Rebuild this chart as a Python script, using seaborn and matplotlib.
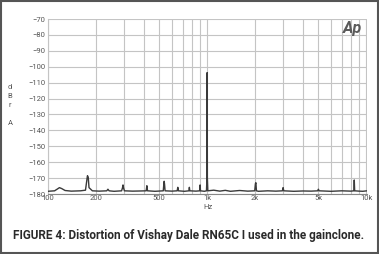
import matplotlib
matplotlib.use("Agg")
import matplotlib.pyplot as plt
import matplotlib.ticker as mticker
import seaborn as sns
import pandas as pd

# Spectrum points (Hz, dBr A)
freq = [100, 110, 114, 118, 122, 128, 140, 160, 172, 175, 177, 179, 181, 190, 210, 234, 238, 242,
        260, 290, 294, 296, 298, 302, 340, 380, 414, 418, 422, 470, 530, 534, 537, 540, 544,
        600, 648, 654, 660, 720, 768, 773, 778, 850, 898, 903, 908, 960, 990, 997, 1000, 1003, 1010,
        1100, 1200, 1300, 1400, 1600, 1800, 1990, 2010, 2024, 2040, 2100, 2400, 2700, 2970, 3000, 3030,
        3500, 4000, 4500, 4950, 5000, 5050, 6000, 7000, 8000, 8350, 8400, 8450, 9000, 9500, 10100]
level = [-178.3, -178.0, -177.0, -176.0, -176.6, -177.8, -178.2, -178.0, -177.6, -172.0, -168.5, -169.5, -176.0, -178.0, -178.2, -178.0, -177.0, -178.0,
         -178.3, -178.0, -176.0, -174.3, -176.0, -178.0, -178.2, -178.1, -178.0, -174.8, -178.0, -178.3, -178.0, -174.0, -172.0, -174.0, -178.0,
         -178.2, -178.0, -175.8, -178.0, -178.3, -178.0, -175.8, -178.0, -178.2, -178.0, -174.3, -178.0, -178.3, -178.0, -170.0, -103.7, -170.0, -178.0,
         -177.6, -178.2, -177.7, -178.3, -177.8, -178.2, -178.0, -173.5, -172.9, -178.0, -178.3, -178.0, -178.2, -178.0, -176.0, -178.0,
         -178.3, -178.1, -178.2, -178.0, -177.0, -178.0, -178.3, -178.0, -178.2, -178.0, -171.2, -178.0, -178.2, -178.3, -178.0]

x_ticks = [100, 200, 500, 1000, 2000, 5000, 10000]
x_labels = ["100", "200", "500", "1k", "2k", "5k", "10k"]
y_ticks = list(range(-180, -69, 10))
caption = "FIGURE 4: Distortion of Vishay Dale RN65C I used in the gainclone."

sns.set_style("white")
plt.rcParams['font.family'] = ['Roboto', 'DejaVu Sans']

df = pd.DataFrame({"freq": freq, "level": level})

fig = plt.figure(figsize=(3.79, 2.54), dpi=100)
ax = fig.add_axes([48/379, 60/254, (367-48)/379, (194-19)/254])

sns.lineplot(data=df, x="freq", y="level", ax=ax, color="#3a3a3a", linewidth=1.0, zorder=3)

ax.set_xscale("log")
ax.set_xlim(100, 10100)
ax.set_ylim(-180, -70)

grid_x = list(range(100, 1000, 100)) + list(range(1000, 10001, 1000))
for gx in grid_x:
    ax.axvline(gx, color="#c4c4c4", linewidth=0.8, zorder=1)
for gy in y_ticks:
    ax.axhline(gy, color="#c4c4c4", linewidth=0.8, zorder=1)

ax.xaxis.set_major_locator(mticker.FixedLocator(x_ticks))
ax.xaxis.set_major_formatter(mticker.FixedFormatter(x_labels))
ax.xaxis.set_minor_locator(mticker.NullLocator())
ax.set_yticks(y_ticks)
ax.yaxis.set_minor_locator(mticker.MultipleLocator(2))
ax.tick_params(axis="both", which="major", labelsize=5.5, labelcolor="#555555", length=0, pad=2)
ax.tick_params(axis="y", which="major", length=3, color="#bbbbbb", direction="in")
ax.tick_params(axis="y", which="minor", length=2, color="#cccccc", direction="in", width=0.5)
ax.tick_params(axis="x", pad=1)

for s in ["top", "right"]:
    ax.spines[s].set_visible(False)
ax.spines["left"].set_color("#c4c4c4")
ax.spines["left"].set_linewidth(0.8)
ax.spines["bottom"].set_color("#888888")
ax.spines["bottom"].set_linewidth(0.8)

ax.set_xlabel("Hz", fontsize=5.5, color="#555555", labelpad=2)
ax.set_ylabel("")
fig.text(10/379, 1 - 84/254, "d\nB\nr\n\nA", fontsize=5.5, color="#555555",
         ha="center", va="top", linespacing=1.6)

fig.text(352/379, 1 - 28/254, "Ap", fontsize=11.5, fontweight="bold", style="italic",
         color="#5a5a5a", ha="center", va="center")

fig.text(189/379, 1 - 236/254, caption, fontsize=8.5, fontweight="bold", color="#2a2a2a",
         ha="center", va="center")

border = plt.Rectangle((0.003, 0.004), 0.994, 0.992, transform=fig.transFigure,
                       fill=False, edgecolor="#555555", linewidth=1.5)
fig.patches.append(border)

fig.savefig("out.png", dpi=100)
